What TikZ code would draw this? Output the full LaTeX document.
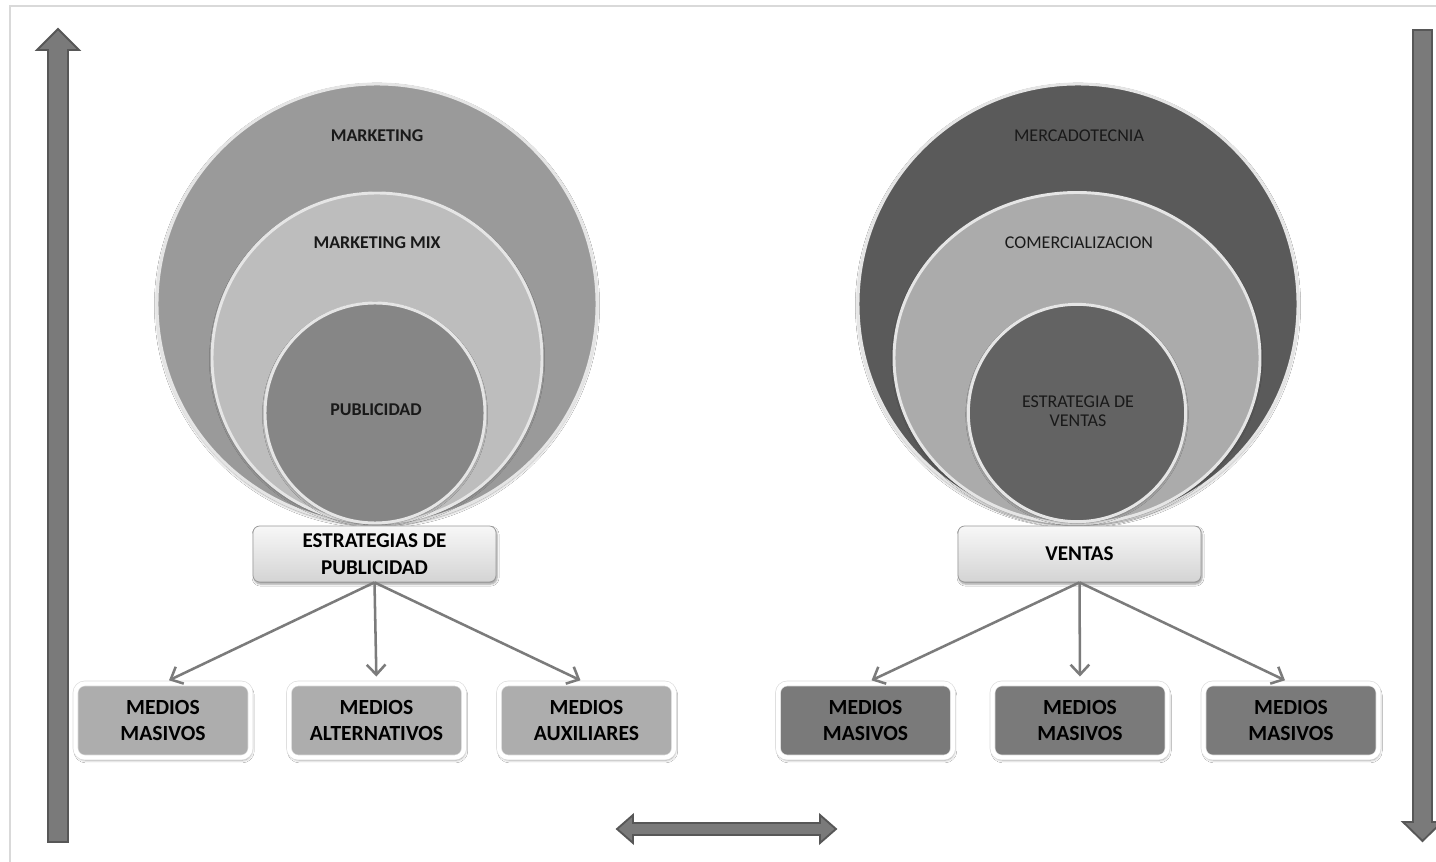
\documentclass[tikz,border=0pt]{standalone}
\usepackage{fontspec}
\setmainfont{Carlito}
\usetikzlibrary{shapes.geometric,shadows,shadows.blur,arrows.meta}
\definecolor{lout}{HTML}{9A9A9A}
\definecolor{lmid}{HTML}{BDBDBD}
\definecolor{linn}{HTML}{868686}
\definecolor{rout}{HTML}{5A5A5A}
\definecolor{rmid}{HTML}{ABABAB}
\definecolor{rinn}{HTML}{636363}
\definecolor{lbox}{HTML}{ADADAD}
\definecolor{rbox}{HTML}{7A7A7A}
\definecolor{arrowfill}{HTML}{7A7A7A}
\definecolor{arrowedge}{HTML}{575757}
\definecolor{conn}{HTML}{7B7B7B}
\definecolor{frame}{HTML}{D9D9D9}
\tikzset{
  disc/.style={circle, inner sep=0pt, draw=white!90!black, line width=2.2pt,
    blur shadow={shadow blur steps=6, shadow xshift=0pt, shadow yshift=-1.2pt, shadow opacity=45, shadow blur radius=2pt}},
  ell/.style={ellipse, inner sep=0pt, draw=white!90!black, line width=2.2pt,
    blur shadow={shadow blur steps=6, shadow xshift=0pt, shadow yshift=-1.2pt, shadow opacity=45, shadow blur radius=2pt}},
  ctext/.style={font=\fontsize{13.5}{14.3}\selectfont, text=black!90, align=center, inner sep=0pt},
  topbox/.style={rectangle, rounded corners=5pt, draw=black!40, line width=0.6pt,
    top color=white!97!black, bottom color=black!17, minimum width=182.25pt, minimum height=42pt,
    font=\fontsize{15.8}{20.2}\selectfont\bfseries, align=center, inner sep=0pt,
    blur shadow={shadow blur steps=5, shadow xshift=0.8pt, shadow yshift=-1.6pt, shadow opacity=40, shadow blur radius=1.5pt}},
  medbox/.style={rectangle, rounded corners=7pt, draw=black!14, double=white, double distance=3.2pt, line width=0.5pt,
    minimum width=131.25pt, minimum height=55.5pt,
    font=\fontsize{16.2}{19.5}\selectfont\bfseries, align=center, inner sep=0pt,
    blur shadow={shadow blur steps=6, shadow xshift=0.8pt, shadow yshift=-2pt, shadow opacity=40, shadow blur radius=2pt}},
  conn/.style={draw=conn, line width=1.9pt, -{Straight Barb[length=7.5pt,width=14pt]}, shorten >=5pt},
  blockarrow/.style={fill=arrowfill, draw=arrowedge, line width=1.4pt, line join=miter}
}
\begin{document}
\begin{tikzpicture}[x=0.75pt,y=-0.75pt]
\useasboundingbox (0,0) rectangle (1436,862);
\fill[white] (0,0) rectangle (1436,862);
\draw[frame, line width=1.2pt] (1436,6) -- (10,6) -- (10,862);

% left block arrow (up)
\path[blockarrow] (48,842) -- (48,50) -- (37,50) -- (58,29) -- (79,50) -- (68,50) -- (68,842) -- cycle;
% right block arrow (down)
\path[blockarrow] (1413,30) -- (1432,30) -- (1432,822) -- (1442,822) -- (1422.5,841) -- (1403,822) -- (1413,822) -- cycle;
% horizontal double arrow
\path[blockarrow] (617,829) -- (633,815) -- (633,823) -- (820,823) -- (820,815) -- (836,829) -- (820,843) -- (820,835) -- (633,835) -- (633,843) -- cycle;

% left circles
\node[disc, fill=lout, minimum size=330pt] (lo) at (377,304) {};
\node[disc, fill=lmid, minimum size=247.5pt] (lm) at (377,358) {};
\node[disc, fill=linn, minimum size=165pt] (li) at (375,413) {};
\node[ctext, font=\fontsize{13.5}{14.3}\selectfont\bfseries] (t1) at (377,136) {MARKETING};
\node[ctext, font=\fontsize{13.5}{14.3}\selectfont\bfseries] (t2) at (377,243) {MARKETING MIX};
\node[ctext, font=\fontsize{13.5}{14.3}\selectfont\bfseries] (t3) at (376,410) {PUBLICIDAD};

% right circles
\node[disc, fill=rout, minimum size=330pt] (ro) at (1078,304) {};
\node[ell, fill=rmid, minimum width=274.5pt, minimum height=248.25pt] (rm) at (1077,358) {};
\node[disc, fill=rinn, minimum size=163pt] (ri) at (1077,413) {};
\node[ctext] (t4) at (1079,136) {MERCADOTECNIA};
\node[ctext] (t5) at (1079,243) {COMERCIALIZACION};
\node[ctext] (t6) at (1078,411) {ESTRATEGIA DE\\VENTAS};

% top boxes
\node[topbox] (ep) at (374.5,554) {ESTRATEGIAS DE\\PUBLICIDAD};
\node[topbox] (ve) at (1079.5,554) {VENTAS};

% bottom boxes
\node[medbox, fill=lbox] (m1) at (163,720.5) {MEDIOS\\MASIVOS};
\node[medbox, fill=lbox] (m2) at (376.5,720.5) {MEDIOS\\ALTERNATIVOS};
\node[medbox, fill=lbox] (m3) at (586.5,720.5) {MEDIOS\\AUXILIARES};
\node[medbox, fill=rbox] (m4) at (865.5,720.5) {MEDIOS\\MASIVOS};
\node[medbox, fill=rbox] (m5) at (1080,720.5) {MEDIOS\\MASIVOS};
\node[medbox, fill=rbox] (m6) at (1291,720.5) {MEDIOS\\MASIVOS};

% connectors
\draw[conn] (ep.south) -- (m1.north);
\draw[conn] (ep.south) -- (m2.north);
\draw[conn] (ep.south) -- (m3.north);
\draw[conn] (ve.south) -- (m4.north);
\draw[conn] (ve.south) -- (m5.north);
\draw[conn] (ve.south) -- (m6.north);
\end{tikzpicture}
\end{document}
